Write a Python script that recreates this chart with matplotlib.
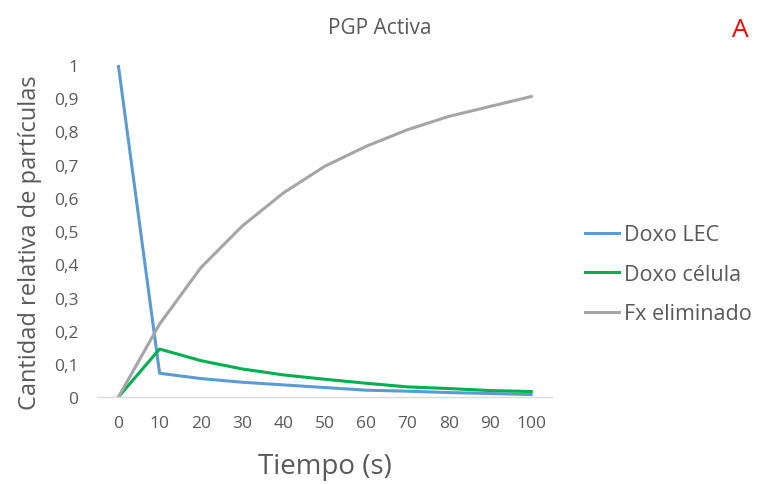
import matplotlib
matplotlib.use('Agg')
from matplotlib import pyplot as plt

plt.rcParams['font.family'] = ['Open Sans', 'DejaVu Sans']

tiempo = [0, 10, 20, 30, 40, 50, 60, 70, 80, 90, 100]
doxo_lec = [1.0, 0.072, 0.056, 0.045, 0.037, 0.029, 0.021, 0.018, 0.014, 0.011, 0.008]
doxo_celula = [0.0, 0.145, 0.11, 0.085, 0.067, 0.054, 0.042, 0.031, 0.026, 0.02, 0.017]
fx_eliminado = [0.0, 0.22, 0.39, 0.515, 0.615, 0.695, 0.755, 0.805, 0.845, 0.875, 0.905]
y_ticks = [0, 0.1, 0.2, 0.3, 0.4, 0.5, 0.6, 0.7, 0.8, 0.9, 1]

text_color = '#595959'

fig = plt.figure(figsize=(7.57, 4.85), dpi=100)
ax = fig.add_axes([0.129, 0.179, 0.6, 0.685])

ax.plot(tiempo, doxo_lec, color='#5B9BD5', lw=2.2, label='Doxo LEC')
ax.plot(tiempo, doxo_celula, color='#00B050', lw=2.2, label='Doxo célula')
ax.plot(tiempo, fx_eliminado, color='#A5A5A5', lw=2.2, label='Fx eliminado')

ax.set_xlim(-5, 105)
ax.set_ylim(0, 1)
ax.set_xticks(tiempo)
ax.set_yticks(y_ticks)
ax.set_yticklabels([('%g' % v).replace('.', ',') for v in y_ticks])
ax.tick_params(length=0, labelsize=12.5, colors=text_color)
ax.tick_params(axis='y', pad=14)
ax.tick_params(axis='x', pad=13)

for s in ['top', 'right', 'left']:
    ax.spines[s].set_visible(False)
ax.spines['bottom'].set_color('#D9D9D9')
ax.spines['bottom'].set_linewidth(1)

ax.set_xlabel('Tiempo (s)', fontsize=20, color=text_color, labelpad=15)
ax.set_ylabel('Cantidad relativa de partículas', fontsize=17, color=text_color)
ax.yaxis.set_label_coords(-0.123, 0.467)

fig.text(0.502, 0.942, 'PGP Activa', ha='center', va='center', fontsize=15, color=text_color)
fig.text(0.978, 0.938, 'A', ha='center', va='center', fontsize=19, color='#FF0000')

ax.legend(loc='center left', bbox_to_anchor=(1.073, 0.37), frameon=False, fontsize=15.5,
          borderaxespad=0, borderpad=0, handlelength=1.6, handletextpad=0.22,
          labelspacing=0.85, labelcolor=text_color)

fig.savefig('out.png', dpi=100)
